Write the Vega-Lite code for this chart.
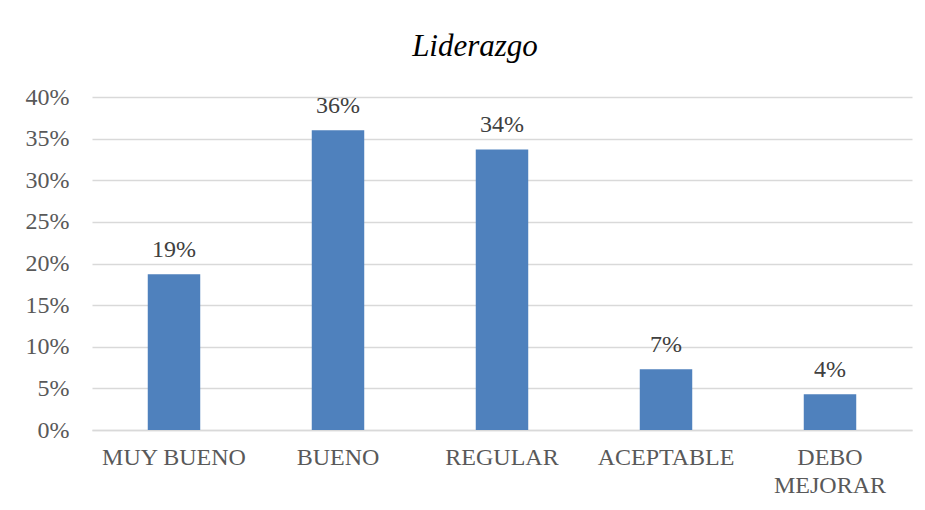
{
  "$schema": "https://vega.github.io/schema/vega-lite/v6.json",
  "autosize": "none",
  "width": 820,
  "height": 333,
  "padding": {"left": 92, "top": 97, "right": 13, "bottom": 80},
  "background": "white",
  "title": {
    "text": "Liderazgo",
    "font": "Liberation Serif",
    "fontStyle": "italic",
    "fontWeight": "normal",
    "fontSize": 31,
    "color": "#000000",
    "anchor": "middle",
    "dx": -27,
    "offset": 22
  },
  "data": {
    "values": [
      {"categoria": "MUY BUENO", "valor": 0.187},
      {"categoria": "BUENO", "valor": 0.36},
      {"categoria": "REGULAR", "valor": 0.337},
      {"categoria": "ACEPTABLE", "valor": 0.073},
      {"categoria": "DEBO MEJORAR", "valor": 0.043}
    ]
  },
  "encoding": {
    "x": {
      "field": "categoria",
      "type": "nominal",
      "sort": null,
      "scale": {"paddingInner": 0.68, "paddingOuter": 0.34},
      "axis": {
        "title": null,
        "labelAngle": 0,
        "labelFont": "Liberation Serif",
        "labelFontSize": 24,
        "labelColor": "#595959",
        "labelPadding": 15,
        "labelLineHeight": 28,
        "labelExpr": "datum.label == 'DEBO MEJORAR' ? ['DEBO', 'MEJORAR'] : datum.label",
        "ticks": false,
        "domain": true,
        "domainColor": "#d9d9d9",
        "domainWidth": 1.5,
        "grid": false
      }
    },
    "y": {
      "field": "valor",
      "type": "quantitative",
      "scale": {"domain": [0, 0.4], "nice": false},
      "axis": {
        "title": null,
        "format": ".0%",
        "values": [0, 0.05, 0.1, 0.15, 0.2, 0.25, 0.3, 0.35, 0.4],
        "labelFont": "Liberation Serif",
        "labelFontSize": 24,
        "labelColor": "#595959",
        "labelPadding": 23,
        "ticks": false,
        "domain": false,
        "grid": true,
        "gridColor": "#d9d9d9",
        "gridWidth": 1.5
      }
    }
  },
  "layer": [
    {"mark": {"type": "bar", "color": "#4f81bd"}},
    {
      "mark": {
        "type": "text",
        "baseline": "alphabetic",
        "dy": -17,
        "font": "Liberation Serif",
        "fontSize": 24,
        "color": "#404040"
      },
      "encoding": {"text": {"field": "valor", "format": ".0%"}}
    }
  ],
  "config": {"view": {"stroke": null}}
}
